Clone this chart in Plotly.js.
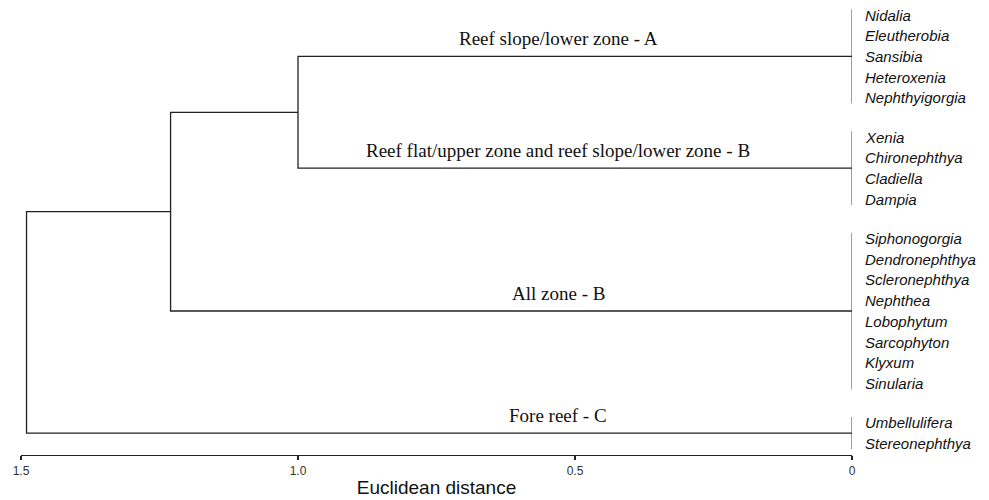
<!DOCTYPE html>
<html>
<head>
<meta charset="utf-8">
<script src="https://cdn.plot.ly/plotly-3.0.1.min.js"></script>
<style>html,body{margin:0;padding:0;background:#fff;}#chart{width:989px;height:500px;}</style>
</head>
<body>
<div id="chart"></div>
<script>
// ---- data ----
const leaves = ['Nidalia','Eleutherobia','Sansibia','Heteroxenia','Nephthyigorgia',
  'Xenia','Chironephthya','Cladiella','Dampia',
  'Siphonogorgia','Dendronephthya','Scleronephthya','Nephthea','Lobophytum','Sarcophyton','Klyxum','Sinularia',
  'Umbellulifera','Stereonephthya'];
const leafCluster = [0,0,0,0,0, 1,1,1,1, 2,2,2,2,2,2,2,2, 3,3];
const clusterNames = ['Reef slope/lower zone - A',
  'Reef flat/upper zone and reef slope/lower zone - B',
  'All zone - B',
  'Fore reef - C'];
const clusterHeights = [0,0,0,0];
// merges: node ids 0..3 are clusters; merge k creates node 4+k
const mergeLeft = [0,4,5];
const mergeRight = [1,2,3];
const mergeHeights = [1.0, 1.23, 1.49];
const tickValues = [1.5, 1.0, 0.5, 0];
const tickLabels = ['1.5','1.0','0.5','0'];
const axisTitle = 'Euclidean distance';

// ---- layout of leaves (row positions) ----
const clusterGap = 0.9;
const leafRow = [];
let r = 0;
leaves.forEach((n,i)=>{
  if(i>0 && leafCluster[i]!==leafCluster[i-1]) r += clusterGap;
  leafRow.push(r); r += 1;
});

const nodeY = [], nodeH = [];
clusterNames.forEach((c,k)=>{
  const rows = leafRow.filter((v,i)=>leafCluster[i]===k);
  nodeY.push(rows.reduce((a,b)=>a+b,0)/rows.length);
  nodeH.push(clusterHeights[k]);
});
const treeX = [], treeY = [];
mergeHeights.forEach((h,k)=>{
  const a = mergeLeft[k], b = mergeRight[k];
  treeX.push(nodeH[a], h, h, nodeH[b], null);
  treeY.push(nodeY[a], nodeY[a], nodeY[b], nodeY[b], null);
  nodeY.push((nodeY[a]+nodeY[b])/2);
  nodeH.push(h);
});

const pad = 0.28;
const leafX = [], leafY = [];
clusterNames.forEach((c,k)=>{
  const rows = leafRow.filter((v,i)=>leafCluster[i]===k);
  leafX.push(0,0,null);
  leafY.push(Math.min(...rows)-pad, Math.max(...rows)+pad, null);
});

const traces = [
  {x: leafX, y: leafY, mode:'lines', line:{color:'#777', width:1.4}, hoverinfo:'skip'},
  {x: treeX, y: treeY, mode:'lines', line:{color:'#222', width:1.3}, hoverinfo:'skip'}
];

const annotations = [];
leaves.forEach((n,i)=>{
  annotations.push({x:0, y:leafRow[i], xref:'x', yref:'y', text:'<i>'+n+'</i>', showarrow:false,
    xanchor:'left', yanchor:'middle', xshift:11,
    font:{family:'Liberation Sans, Arial, sans-serif', size:15, color:'#111'}});
});
clusterNames.forEach((c,k)=>{
  annotations.push({x:0.53, y:nodeY[k], xref:'x', yref:'y', text:c, showarrow:false,
    xanchor:'center', yanchor:'bottom', yshift:5,
    font:{family:'Liberation Serif, Times New Roman, serif', size:19, color:'#111'}});
});

const layout = {
  width:989, height:500,
  margin:{l:21, r:137, t:0, b:45, pad:0},
  paper_bgcolor:'#fff', plot_bgcolor:'#fff',
  showlegend:false, hovermode:false,
  xaxis:{range:[1.5,0], showgrid:false, zeroline:false, showline:true, linecolor:'#222', linewidth:1.3,
    ticks:'outside', ticklen:4, tickwidth:1.3, tickcolor:'#222',
    tickvals:tickValues, ticktext:tickLabels,
    tickfont:{family:'Liberation Sans, Arial, sans-serif', size:12, color:'#333'},
    title:{text:axisTitle, standoff:4, font:{family:'Liberation Sans, Arial, sans-serif', size:19, color:'#111'}},
    automargin:false, fixedrange:true},
  yaxis:{range:[21.256,-0.7246], visible:false, showgrid:false, zeroline:false, fixedrange:true},
  annotations: annotations
};
Plotly.newPlot('chart', traces, layout, {staticPlot:true, displayModeBar:false});
</script>
</body>
</html>
